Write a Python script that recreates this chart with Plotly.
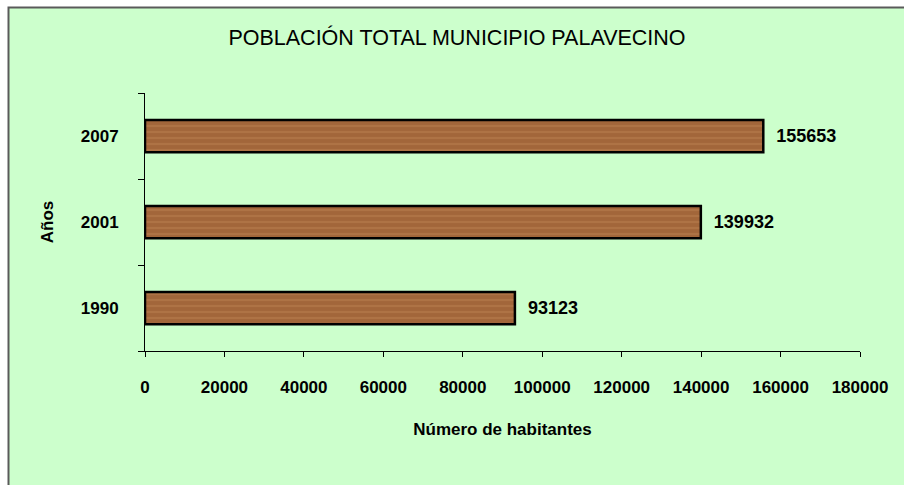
import plotly.graph_objects as go

years = ["1990", "2001", "2007"]
population = [93123, 139932, 155653]
x_ticks = [0, 20000, 40000, 60000, 80000, 100000, 120000, 140000, 160000, 180000]

W, H = 904, 485
ml, mr, mt, mb = 145, 44, 93, 134
pw, ph = W - ml - mr, H - mt - mb

def px_to_paper_x(px):
    return (px - ml) / pw

def px_to_paper_y(py):
    return (H - mb - py) / ph

pos = list(range(len(years)))

fig = go.Figure(go.Bar(
    y=pos,
    x=population,
    orientation="h",
    width=0.375,
    marker=dict(
        color="#A2663A",
        line=dict(color="black", width=2.5),
        pattern=dict(shape="-", fgcolor="#B98050", size=6, solidity=0.35, fillmode="overlay"),
    ),
    text=[str(v) for v in population],
    texttemplate="  %{text}",
    textposition="outside",
    cliponaxis=False,
    textfont=dict(family="Arial", size=18, color="black", weight="bold"),
    hoverinfo="skip",
))

fig.update_layout(
    width=W, height=H,
    margin=dict(l=ml, r=mr, t=mt, b=mb),
    paper_bgcolor="white",
    plot_bgcolor="#CCFFCC",
    showlegend=False,
    title=dict(
        text="POBLACIÓN TOTAL MUNICIPIO PALAVECINO",
        x=457 / W, xref="container", xanchor="center",
        y=1 - 37 / H, yref="container", yanchor="middle",
        font=dict(family="Arial", size=21.5, color="black"),
    ),
    shapes=[dict(
        type="rect", xref="paper", yref="paper", layer="below",
        x0=px_to_paper_x(8.5), x1=px_to_paper_x(W + 10),
        y0=px_to_paper_y(H + 10), y1=px_to_paper_y(7.5),
        fillcolor="#CCFFCC", line=dict(color="#5A5A5A", width=2),
    )],
)

fig.update_xaxes(
    range=[0, 180000],
    tickvals=x_ticks,
    ticktext=[str(v) for v in x_ticks],
    ticks="outside", ticklen=5, tickcolor="black", tickwidth=1,
    showline=True, linecolor="black", linewidth=1,
    showgrid=False, zeroline=False,
    ticklabelstandoff=16,
    tickfont=dict(family="Arial", size=17, color="black", weight="bold"),
    title=dict(text="Número de habitantes", standoff=26,
               font=dict(family="Arial", size=17, color="black", weight="bold")),
)

fig.update_yaxes(
    range=[-0.5, len(years) - 0.5],
    tickvals=pos,
    ticktext=years,
    ticks="",
    minor=dict(tick0=0.5, dtick=1, ticks="outside", ticklen=6, tickcolor="black", tickwidth=1, showgrid=False),
    showline=True, linecolor="black", linewidth=1,
    showgrid=False, zeroline=False,
    ticklabelstandoff=22,
    tickfont=dict(family="Arial", size=17, color="black", weight="bold"),
    title=dict(text="Años", standoff=22,
               font=dict(family="Arial", size=17, color="black", weight="bold")),
)

fig.write_html(
    "out.html",
    config={"displayModeBar": False},
    post_script="document.body.style.margin='0';document.body.style.overflow='hidden';",
)
